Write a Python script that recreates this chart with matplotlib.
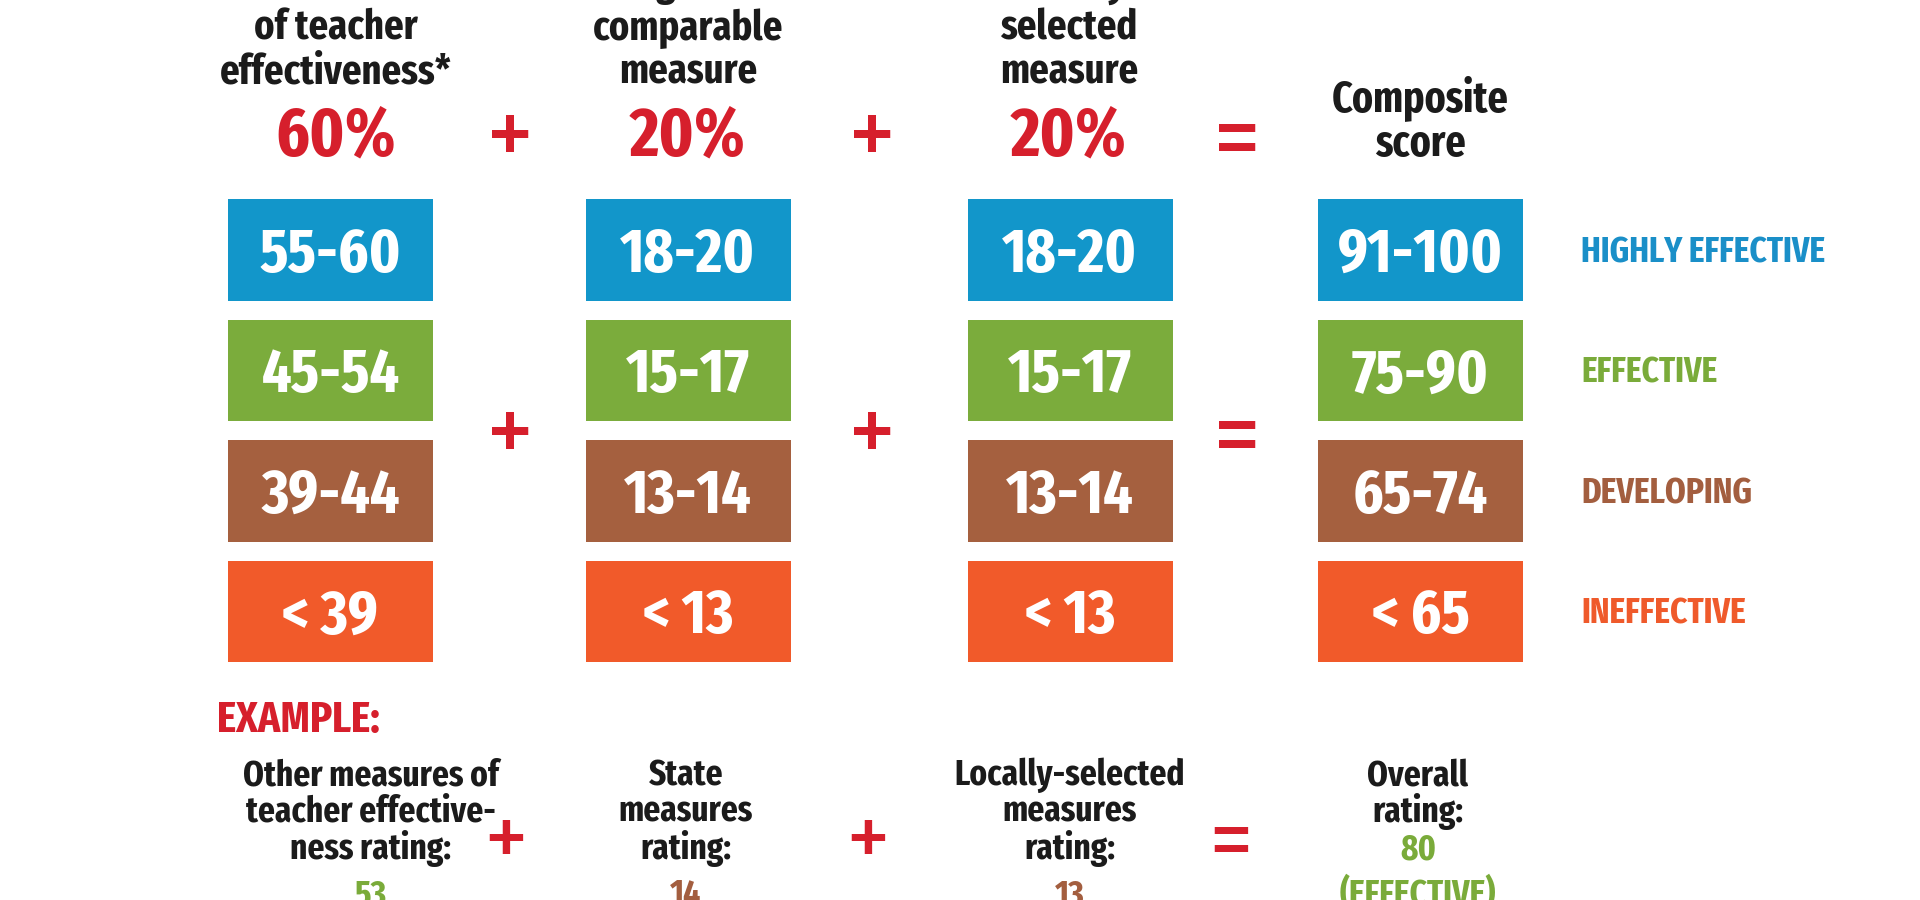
import matplotlib
matplotlib.use("Agg")
import matplotlib.pyplot as plt

plt.rcParams['font.family'] = ['Fira Sans Extra Condensed', 'Archivo Narrow', 'DejaVu Sans']

# ---- data ----
ratings = ['HIGHLY EFFECTIVE', 'EFFECTIVE', 'DEVELOPING', 'INEFFECTIVE']
other_ranges = ['55-60', '45-54', '39-44', '< 39']
state_ranges = ['18-20', '15-17', '13-14', '< 13']
local_ranges = ['18-20', '15-17', '13-14', '< 13']
composite_ranges = ['91-100', '75-90', '65-74', '< 65']
weights = ['60%', '20%', '20%']
headers = [['Other measures', 'of teacher', 'effectiveness*'],
           ['State growth or', 'comparable', 'measure'],
           ['Locally', 'selected', 'measure']]
composite_header = ['Composite', 'score']
example_labels = [['Other measures of', 'teacher effective-', 'ness rating:'],
                  ['State', 'measures', 'rating:'],
                  ['Locally-selected', 'measures', 'rating:'],
                  ['Overall', 'rating:']]
example_values = ['53', '14', '13', '80']
example_value_rating = ['EFFECTIVE', 'DEVELOPING', 'DEVELOPING', 'EFFECTIVE']
overall_word = '(EFFECTIVE)'

# ---- style ----
rating_colors = {'HIGHLY EFFECTIVE': '#1296ca', 'EFFECTIVE': '#7bac3c',
                 'DEVELOPING': '#a5603f', 'INEFFECTIVE': '#f15a2a'}
label_colors = {'HIGHLY EFFECTIVE': '#1a8fc8', 'EFFECTIVE': '#7aab3a',
                'DEVELOPING': '#a35e3f', 'INEFFECTIVE': '#ef5a2b'}
RED = '#d61f2c'
DARK = '#1b1b1b'

fig = plt.figure(figsize=(19.2, 9), dpi=100)
ax = fig.add_axes([0, 0, 1, 1])
ax.set_xlim(0, 1920)
ax.set_ylim(900, 0)
ax.axis('off')

col_x = [330.5, 688, 1070, 1420.5]
head_x = [336, 688, 1069]
row_top0, row_pitch, box_h, box_w = 199, 120.5, 101.5, 205

columns = [other_ranges, state_ranges, local_ranges, composite_ranges]
for ci, col in enumerate(columns):
    tops = [row_top0 + i * row_pitch for i in range(len(ratings))]
    ax.bar([col_x[ci]] * len(ratings), [box_h] * len(ratings), width=box_w,
           bottom=tops, color=[rating_colors[r] for r in ratings], linewidth=0)
    for i, txt in enumerate(col):
        ax.text(col_x[ci], tops[i] + box_h / 2 + 22, txt, ha='center', va='baseline',
                fontsize=45, fontweight='bold', color='white')

# right-hand labels
for i, r in enumerate(ratings):
    ax.text(1581, row_top0 + i * row_pitch + box_h / 2 + 12.5, r, ha='left', va='baseline',
            fontsize=26, fontweight='bold', color=label_colors[r])

# headers
for ci, lines in enumerate(headers):
    for li, line in enumerate(lines):
        ax.text(head_x[ci], -4 + 44 * li, line, ha='center', va='baseline',
                fontsize=30, fontweight='bold', color=DARK)
    ax.text(head_x[ci], 155, weights[ci], ha='center', va='baseline',
            fontsize=50, fontweight='bold', color=RED)
for li, line in enumerate(composite_header):
    ax.text(col_x[3], 111 + 45 * li, line, ha='center', va='baseline',
            fontsize=31, fontweight='bold', color=DARK)

# operators
op_font = ['Liberation Sans', 'DejaVu Sans']
def op(x, y, s, size=52):
    em = size / 0.72
    off = 0.29 * em if s == '+' else 0.33 * em
    ax.text(x, y + off, s, ha='center', va='baseline', fontsize=size,
            fontweight='bold', color=RED, family=op_font)

for y in (137, 434):
    op(510, y, '+')
    op(872, y, '+')
    op(1237, y, '=')
op(506, 840, '+', 48)
op(868, 840, '+', 48)
op(1231, 840, '=', 48)

# example
ax.text(217, 732, 'EXAMPLE:', ha='left', va='baseline', fontsize=32,
        fontweight='bold', color=RED)
ex_x = [371, 686, 1070, 1418]
for ci, lines in enumerate(example_labels):
    for li, line in enumerate(lines):
        ax.text(ex_x[ci], 785 + 37 * li, line, ha='center', va='baseline',
                fontsize=26, fontweight='bold', color=DARK)
    vy = 860 if ci == 3 else 905
    ax.text(ex_x[ci], vy, example_values[ci], ha='center', va='baseline',
            fontsize=26, fontweight='bold', color=label_colors[example_value_rating[ci]])
ax.text(ex_x[3], 905, overall_word, ha='center', va='baseline', fontsize=26,
        fontweight='bold', color=label_colors['EFFECTIVE'])

fig.savefig('out.png', dpi=100, facecolor='white')
